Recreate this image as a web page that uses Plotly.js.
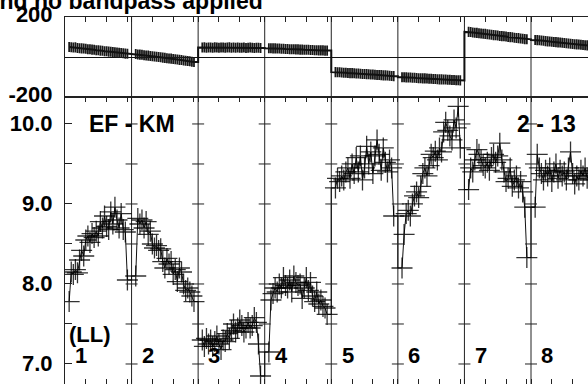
<!DOCTYPE html>
<html>
<head>
<meta charset="utf-8">
<script src="https://cdn.plot.ly/plotly-3.0.1.min.js"></script>
<style>
  html, body { margin: 0; padding: 0; background: #fff; }
  #chart { width: 588px; height: 384px; }
</style>
</head>
<body>
<div id="chart"></div>
<script>
// ---------- data ----------
const channels = [2,3,4,5,6,7,8,9,10,11,12,13,14,15,16,17,18,19,20,21,22,23,24,25,26,27,28,29,30];
const ifLabels = ["1","2","3","4","5","6","7","8"];
const chansPerIF = 32;

const amp1 = [7.78,8.15,8.12,8.18,8.14,8.30,8.42,8.35,8.55,8.60,8.52,8.63,8.58,8.66,8.60,8.78,8.70,8.85,8.72,8.68,8.90,8.75,8.96,8.80,8.70,8.88,8.68,8.65,8.05];
const amp2 = [8.10,8.82,8.75,8.80,8.70,8.78,8.62,8.66,8.50,8.45,8.48,8.42,8.44,8.28,8.20,8.32,8.25,8.28,8.12,8.18,8.03,8.20,8.15,8.00,7.92,7.95,7.90,7.85,7.78];
const amp3 = [7.30,7.22,7.32,7.25,7.30,7.22,7.28,7.35,7.25,7.18,7.30,7.28,7.38,7.32,7.42,7.50,7.40,7.45,7.55,7.48,7.40,7.45,7.52,7.45,7.48,7.58,7.52,7.25,6.85];
const amp4 = [7.15,7.80,7.88,7.95,7.90,8.00,7.95,8.08,7.98,7.95,8.05,7.90,8.10,8.02,7.98,8.00,7.82,7.95,8.08,7.92,8.02,7.85,7.78,7.90,7.75,7.80,7.72,7.70,7.62];
const amp5 = [9.20,9.32,9.28,9.35,9.30,9.40,9.45,9.32,9.50,9.38,9.58,9.40,9.60,9.30,9.45,9.72,9.50,9.65,9.38,9.60,9.80,9.62,9.42,9.70,9.52,9.40,9.55,9.45,8.85];
const amp6 = [8.20,8.62,8.88,8.92,8.85,9.00,9.10,9.15,9.08,9.22,9.38,9.45,9.35,9.48,9.62,9.58,9.66,9.55,9.70,9.65,9.90,10.02,9.92,9.85,9.80,10.05,9.95,10.22,9.70];
const amp7 = [9.18,9.45,9.40,9.55,9.68,9.62,9.55,9.48,9.45,9.52,9.42,9.58,9.62,9.52,9.60,9.76,9.55,9.40,9.28,9.32,9.45,9.22,9.30,9.35,9.20,9.28,9.15,8.96,8.33];
const amp8 = [8.96,9.62,9.45,9.38,9.30,9.42,9.35,9.45,9.28,9.40,9.50,9.32,9.42,9.35,9.40,9.30,9.45,9.65,9.38,9.25,9.35,9.30,9.42,9.35,9.45,9.32,9.40,9.38,9.30];

const ph1 = [51,50,48,49,46,45,44,43,42,40,40,38,37,35,35,33,32,30,30,28,27,26,25,23,22,21,20,18,17];
const ph2 = [16,14,13,12,10,9,8,6,5,4,2,1,0,-2,-3,-5,-6,-7,-9,-10,-11,-13,-14,-16,-17,-19,-20,-22,-24];
const ph3 = [48,49,47,48,48,47,49,48,47,48,48,47,48,49,47,48,47,48,47,47,48,46,47,48,47,46,47,47,46];
const ph4 = [45,45,44,44,43,43,42,42,41,41,40,40,40,39,39,38,38,37,37,37,36,36,35,35,34,34,34,33,33];
const ph5 = [-74,-75,-75,-76,-77,-77,-78,-79,-79,-80,-81,-81,-82,-83,-83,-84,-85,-86,-86,-87,-88,-88,-89,-90,-90,-91,-92,-93,-94];
const ph6 = [-99,-99,-100,-101,-101,-102,-102,-103,-104,-104,-105,-105,-106,-107,-107,-108,-108,-109,-110,-110,-111,-111,-112,-112,-113,-113,-114,-114,-115];
const ph7 = [126,125,123,122,121,119,118,117,116,114,113,112,110,109,108,106,105,104,103,101,100,99,97,96,95,93,92,90,89];
const ph8 = [86,85,84,83,82,80,79,78,77,76,75,74,73,72,71,70,68,67,66,65,64,63,62,61,60,59,58,57,56];

const ampTickVals = [7.0,7.5,8.0,8.5,9.0,9.5,10.0];
const ampTickText = ["7.0","","8.0","","9.0","","10.0"];
const phaseTickVals = [-200,200];
const phaseTickText = ["-200","200"];
const chanTickVals = [10,20,30];

// ---------- build ----------
const ampSeries = [amp1,amp2,amp3,amp4,amp5,amp6,amp7,amp8];
const phSeries = [ph1,ph2,ph3,ph4,ph5,ph6,ph7,ph8];
const nIF = ifLabels.length;

const xs = [], amps = [], phs = [];
const lx = [], la = [], lp = [];
for (let p = 0; p < nIF; p++) {
  const a = ampSeries[p], ph = phSeries[p];
  if (p > 0) {
    const b = p * chansPerIF;
    lx.push(b, b); la.push(ampSeries[p-1][ampSeries[p-1].length-1], a[0]);
    lp.push(phSeries[p-1][phSeries[p-1].length-1], ph[0]);
  }
  channels.forEach((c, i) => {
    const x = p * chansPerIF + c;
    xs.push(x); amps.push(a[i]); phs.push(ph[i]);
    lx.push(x); la.push(a[i]); lp.push(ph[i]);
  });
}

const FONT = "Liberation Sans, Arial, Helvetica, sans-serif";
const INK = "#111";

const traces = [
  { x: lx, y: la, xaxis: "x", yaxis: "y", type: "scatter", mode: "lines",
    line: { color: INK, width: 1 }, hoverinfo: "skip", showlegend: false },
  { x: xs, y: amps, xaxis: "x", yaxis: "y", type: "scatter", mode: "markers",
    marker: { symbol: "cross-thin-open", size: 15, color: "rgba(0,0,0,0.8)", line: { color: "rgba(0,0,0,0.8)", width: 1.3 } },
    hoverinfo: "skip", showlegend: false },
  { x: xs, y: phs, xaxis: "x2", yaxis: "y2", type: "scatter", mode: "markers",
    marker: { size: 1, color: "rgba(0,0,0,0)" },
    error_y: { type: "constant", value: 25, thickness: 1.8, width: 0, color: "#1a1a1a" },
    hoverinfo: "skip", showlegend: false },
  { x: lx, y: lp, xaxis: "x2", yaxis: "y2", type: "scatter", mode: "lines",
    line: { color: INK, width: 2 }, hoverinfo: "skip", showlegend: false }
];

const tickAll = [];
for (let p = 0; p < nIF; p++) {
  tickAll.push(p * chansPerIF);
  chanTickVals.forEach(t => tickAll.push(p * chansPerIF + t));
}

const xRange = [0, 251.4];
const split = 0.7807;

const shapes = [];
for (let k = 1; k < nIF; k++) {
  shapes.push({ type: "line", xref: "x", yref: "paper", x0: k * chansPerIF, x1: k * chansPerIF, y0: 0, y1: 1,
                line: { color: "#222", width: 1 }, layer: "below" });
  ampTickVals.forEach(v => {
    shapes.push({ type: "line", xref: "x", xsizemode: "pixel", xanchor: k * chansPerIF, x0: -6, x1: 6,
                  yref: "y", y0: v, y1: v, line: { color: "#222", width: 1 } });
  });
}

const annFont = { family: FONT, size: 22, color: "#000", weight: "bold" };
const annotations = [];
ifLabels.forEach((lab, p) => {
  annotations.push({ text: lab, xref: "x", yref: "y", x: p * chansPerIF + 4.0, y: 7.1,
                     xanchor: "left", yanchor: "middle", showarrow: false, font: annFont });
});
annotations.push({ text: "(LL)", xref: "x", yref: "y", x: 1.0, y: 7.37, xanchor: "left", yanchor: "middle", showarrow: false, font: annFont });
annotations.push({ text: "EF - KM", xref: "x", yref: "y", x: 32.4, y: 10.0, xanchor: "center", yanchor: "middle", showarrow: false, font: { family: FONT, size: 23, color: "#000", weight: "bold" } });
annotations.push({ text: "2 - 13", xref: "x", yref: "y", x: 231.4, y: 10.0, xanchor: "center", yanchor: "middle", showarrow: false, font: { family: FONT, size: 23, color: "#000", weight: "bold" } });
annotations.push({ text: "l and no bandpass applied", xref: "paper", yref: "paper", x: 0.3824, y: 1, yshift: 1,
                   xanchor: "right", yanchor: "bottom", showarrow: false,
                   font: { family: FONT, size: 23, color: "#000", weight: "bold" } });

const layout = {
  width: 588, height: 384,
  margin: { l: 65, r: 0, t: 17, b: 0, pad: 0 },
  paper_bgcolor: "#fff", plot_bgcolor: "#fff",
  showlegend: false,
  xaxis: {
    domain: [0, 1], range: xRange, anchor: "y",
    showgrid: false, zeroline: false, showline: true, linecolor: "#222", linewidth: 1,
    mirror: "ticks", ticks: "inside", ticklen: 5, tickwidth: 1, tickcolor: "#222",
    tickmode: "array", tickvals: tickAll, showticklabels: false
  },
  xaxis2: {
    domain: [0, 1], range: xRange, anchor: "y2", side: "top",
    showgrid: false, zeroline: false, showline: true, linecolor: "#222", linewidth: 1,
    mirror: true, ticks: "inside", ticklen: 5, tickwidth: 1, tickcolor: "#222",
    tickmode: "array", tickvals: tickAll, showticklabels: false
  },
  yaxis: {
    domain: [0, split], range: [6.75, 10.331], anchor: "x",
    showgrid: false, zeroline: false, showline: true, linecolor: "#222", linewidth: 1,
    ticks: "inside", ticklen: 7, tickwidth: 1, tickcolor: "#222",
    tickmode: "array", tickvals: ampTickVals, ticktext: ampTickText,
    ticklabelstandoff: 7, ticklabelshift: -1,
    tickfont: { family: FONT, size: 22, color: "#000", weight: "bold" }
  },
  yaxis2: {
    domain: [split, 1], range: [-200, 200], anchor: "x2",
    showgrid: false, zeroline: true, zerolinecolor: "#111", zerolinewidth: 1,
    showline: true, linecolor: "#222", linewidth: 1,
    ticks: "", tickmode: "array", tickvals: phaseTickVals, ticktext: phaseTickText,
    ticklabelstandoff: 7, ticklabelshift: -3,
    tickfont: { family: FONT, size: 22, color: "#000", weight: "bold" }
  },
  shapes: shapes,
  annotations: annotations
};

Plotly.newPlot("chart", traces, layout, { staticPlot: true, displayModeBar: false });
</script>
</body>
</html>
